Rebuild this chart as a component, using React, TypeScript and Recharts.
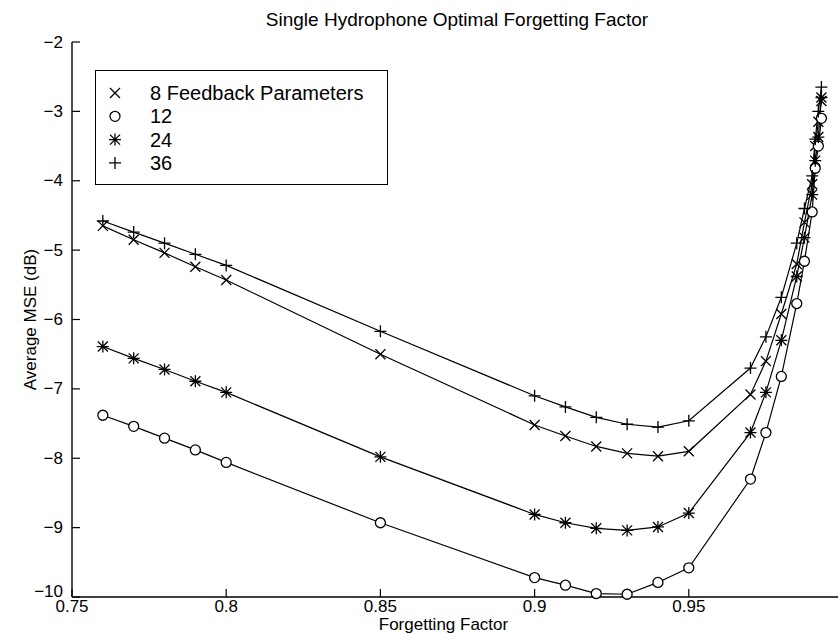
import React from 'react';
import { LineChart, Line, XAxis, YAxis } from 'recharts';

// forgetting factor values where the MSE was measured
const forgetting = [
	0.76, 0.77, 0.78, 0.79, 0.8, 0.85, 0.9, 0.91, 0.92, 0.93, 0.94, 0.95, 0.97, 0.975, 0.98,
	0.985, 0.9875, 0.99, 0.991, 0.992, 0.993,
];
// average MSE (dB) per number of feedback parameters
const mse8 = [
	-4.65, -4.85, -5.04, -5.24, -5.43, -6.5, -7.52, -7.68, -7.83, -7.93, -7.97, -7.9, -7.08, -6.6,
	-5.92, -5.2, -4.6, -4.05, -3.5, -3.15, -2.85,
];
const mse12 = [
	-7.38, -7.54, -7.71, -7.88, -8.06, -8.93, -9.72, -9.83, -9.95, -9.96, -9.79, -9.58, -8.3, -7.63,
	-6.82, -5.77, -5.16, -4.45, -3.82, -3.5, -3.1,
];
const mse24 = [
	-6.39, -6.56, -6.72, -6.89, -7.05, -7.98, -8.81, -8.93, -9.01, -9.04, -8.99, -8.79, -7.63, -7.05,
	-6.3, -5.38, -4.82, -4.2, -3.71, -3.37, -2.8,
];
const mse36 = [
	-4.58, -4.74, -4.9, -5.06, -5.22, -6.17, -7.1, -7.26, -7.41, -7.51, -7.55, -7.46, -6.7, -6.25,
	-5.68, -4.9, -4.4, -3.93, -3.4, -3.0, -2.65,
];

const xTicks = [0.75, 0.8, 0.85, 0.9, 0.95];
const yTicks = [-10, -9, -8, -7, -6, -5, -4, -3, -2];
const legendLabels = ['8 Feedback Parameters', '12', '24', '36'];

const data = forgetting.map((f, i) => ({
	f,
	p8: mse8[i],
	p12: mse12[i],
	p24: mse24[i],
	p36: mse36[i],
}));

const FONT = '"Liberation Sans", Arial, Helvetica, sans-serif';
const TICK_LEN = 8;
const FS = 17;

type Kind = 'x' | 'o' | 'star' | 'plus';

const Marker = ({ kind, cx, cy }: { kind: Kind; cx: number; cy: number }) => {
	const s = 5;
	const st = { stroke: '#000', strokeWidth: 1.3, fill: 'none' };
	if (kind === 'o') return <circle cx={cx} cy={cy} r={5} stroke="#000" strokeWidth={1.3} fill="#fff" />;
	if (kind === 'x')
		return <path d={`M${cx - s},${cy - s}L${cx + s},${cy + s}M${cx - s},${cy + s}L${cx + s},${cy - s}`} {...st} />;
	if (kind === 'plus')
		return <path d={`M${cx - 6},${cy}L${cx + 6},${cy}M${cx},${cy - 6}L${cx},${cy + 6}`} {...st} />;
	return (
		<path
			d={`M${cx - s},${cy - s}L${cx + s},${cy + s}M${cx - s},${cy + s}L${cx + s},${cy - s}M${cx - 6},${cy}L${cx + 6},${cy}M${cx},${cy - 6}L${cx},${cy + 6}`}
			{...st}
		/>
	);
};

const dotFor = (kind: Kind) => (props: any) =>
	<Marker key={`${kind}-${props.index}`} kind={kind} cx={props.cx} cy={props.cy} />;

const minus = (v: number) => String(v).replace('-', '\u2212');

const BottomTick = (p: any) => (
	<g>
		<line x1={p.x} x2={p.x} y1={p.y - 3} y2={p.y - 3 - TICK_LEN} stroke="#000" strokeWidth={1.2} />
		<text x={p.x} y={p.y} textAnchor="middle" dominantBaseline="hanging" fontSize={FS} fontFamily={FONT}>
			{p.payload.value}
		</text>
	</g>
);

const LeftTick = (p: any) => (
	<g>
		<line x1={p.x + 9} x2={p.x + 9 + TICK_LEN} y1={p.y} y2={p.y} stroke="#000" strokeWidth={1.2} />
		<text
			x={p.x}
			y={p.payload.value === -10 ? p.y - 6 : p.y}
			textAnchor="end"
			dominantBaseline="central"
			fontSize={FS}
			fontFamily={FONT}
		>
			{minus(p.payload.value)}
		</text>
	</g>
);

const TopTick = (p: any) => (
	<line x1={p.x} x2={p.x} y1={p.y} y2={p.y + TICK_LEN} stroke="#000" strokeWidth={1.2} />
);

const RightTick = (p: any) => (
	<line x1={p.x} x2={p.x - TICK_LEN - 2} y1={p.y} y2={p.y} stroke="#000" strokeWidth={1.2} />
);

const kinds: Kind[] = ['x', 'o', 'star', 'plus'];

const App = () => {
	return (
		<div
			style={{
				position: 'fixed',
				left: 0,
				top: 0,
				width: 838,
				height: 633,
				overflow: 'hidden',
				background: '#fff',
			}}
		>
			<div
				style={{
					position: 'absolute',
					left: 0,
					top: 9,
					width: 914,
					textAlign: 'center',
					fontFamily: FONT,
					fontSize: 19,
				}}
			>
				Single Hydrophone Optimal Forgetting Factor
			</div>
			<LineChart width={870} height={633} data={data} margin={{ top: 42, right: 27, bottom: 6, left: 27 }}>
				<XAxis
					dataKey="f"
					type="number"
					domain={[0.75, 1]}
					ticks={xTicks}
					height={30}
					tickSize={0}
					tickMargin={3}
					tick={<BottomTick />}
					axisLine={{ stroke: '#000', strokeWidth: 1.4 }}
					label={{
						content: (lp: any) => (
							<text
								x={lp.viewBox.x + lp.viewBox.width / 2 - 14}
								y={624}
								textAnchor="middle"
								dominantBaseline="central"
								fontSize={FS}
								fontFamily={FONT}
							>
								Forgetting Factor
							</text>
						),
					}}
				/>
				<XAxis
					xAxisId="top"
					orientation="top"
					type="number"
					domain={[0.75, 1]}
					ticks={xTicks}
					height={0}
					tickSize={0}
					tickMargin={0}
					tick={<TopTick />}
					axisLine={{ stroke: '#000', strokeWidth: 1.4 }}
				/>
				<YAxis
					type="number"
					domain={[-10, -2]}
					ticks={yTicks}
					width={45}
					tickSize={0}
					tickMargin={9}
					tick={<LeftTick />}
					axisLine={{ stroke: '#000', strokeWidth: 1.4 }}
					label={{
						content: (lp: any) => {
							const cy = lp.viewBox.y + lp.viewBox.height / 2;
							return (
								<text
									x={30}
									y={cy}
									transform={`rotate(-90 30 ${cy})`}
									textAnchor="middle"
									dominantBaseline="central"
									fontSize={FS}
									fontFamily={FONT}
								>
									Average MSE (dB)
								</text>
							);
						},
					}}
				/>
				<YAxis
					yAxisId="right"
					orientation="right"
					type="number"
					domain={[-10, -2]}
					ticks={yTicks}
					width={0}
					tickSize={0}
					tickMargin={0}
					tick={<RightTick />}
					axisLine={{ stroke: '#000', strokeWidth: 1.4 }}
				/>
				<Line dataKey="p8" stroke="#000" strokeWidth={1.2} dot={dotFor('x')} isAnimationActive={false} />
				<Line dataKey="p12" stroke="#000" strokeWidth={1.2} dot={dotFor('o')} isAnimationActive={false} />
				<Line dataKey="p24" stroke="#000" strokeWidth={1.2} dot={dotFor('star')} isAnimationActive={false} />
				<Line dataKey="p36" stroke="#000" strokeWidth={1.2} dot={dotFor('plus')} isAnimationActive={false} />
			</LineChart>
			<div
				style={{
					position: 'absolute',
					left: 95,
					top: 70,
					width: 293,
					height: 115,
					border: '1.5px solid #000',
					boxSizing: 'border-box',
					background: '#fff',
				}}
			>
				<svg width={290} height={112}>
					{legendLabels.map((label, i) => (
						<g key={label}>
							<Marker kind={kinds[i]} cx={19} cy={22 + i * 23.3} />
							<text x={54} y={22 + i * 23.3} dominantBaseline="central" fontSize={20} fontFamily={FONT}>
								{label}
							</text>
						</g>
					))}
				</svg>
			</div>
		</div>
	);
};

export default App;
